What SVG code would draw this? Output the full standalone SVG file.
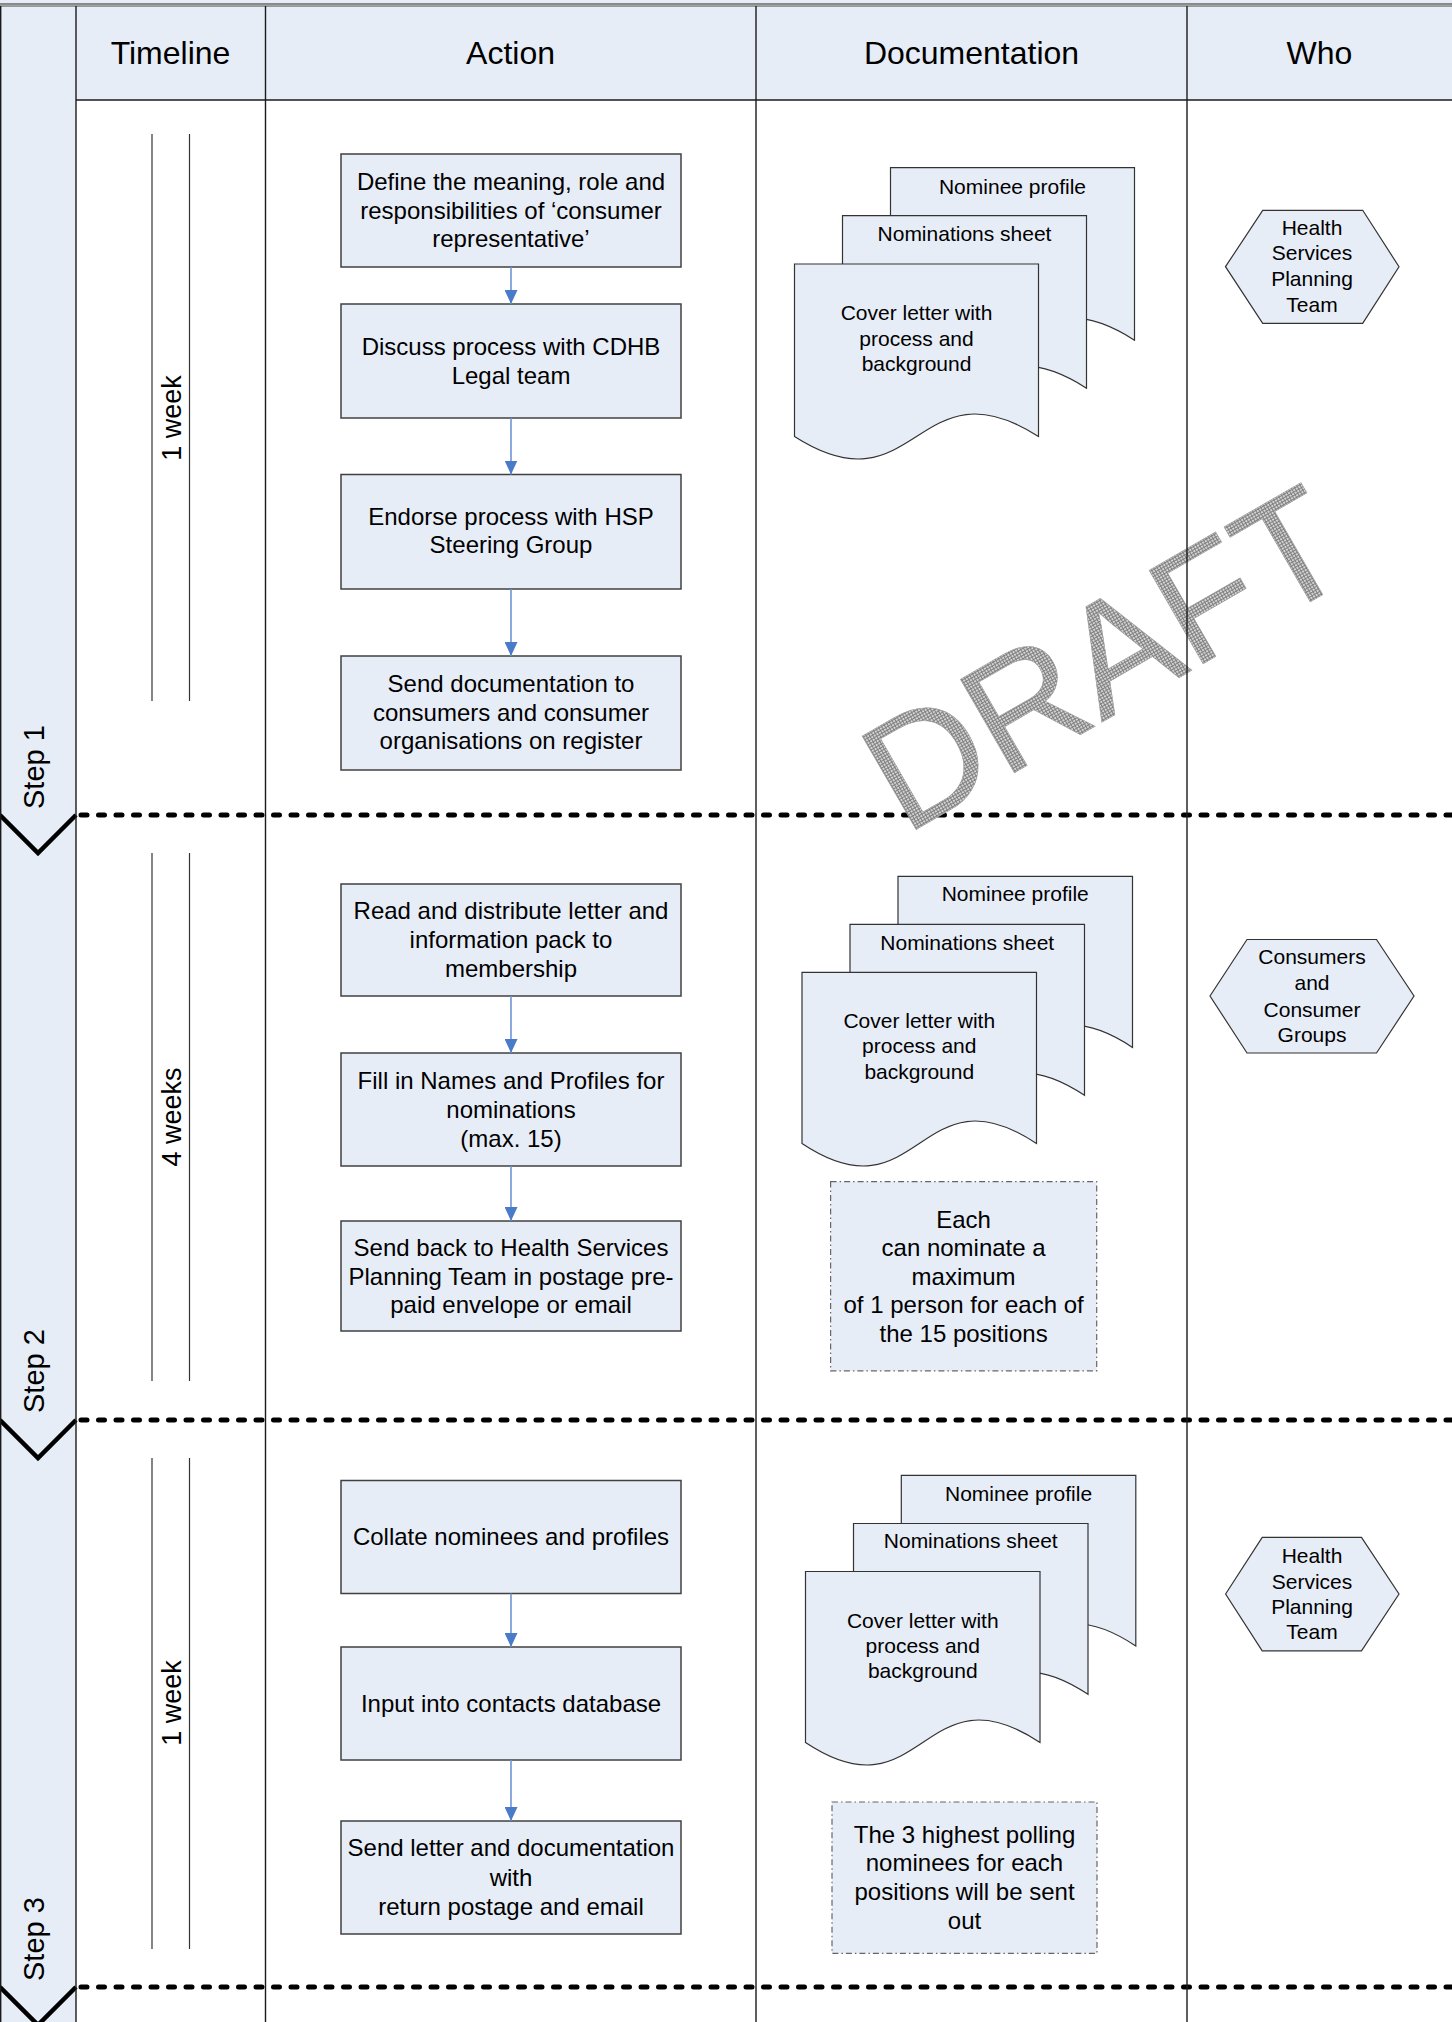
<svg xmlns="http://www.w3.org/2000/svg" width="1452" height="2022" viewBox="0 0 1452 2022">
<defs>
<style>
.bg{fill:#E7EDF7}
.grid{stroke:#1a1a1a;stroke-width:1.4;fill:none}
.hdr{font-family:"Liberation Sans",Arial,sans-serif;font-size:32px;fill:#000;text-anchor:middle}
.box{fill:#E7EDF7;stroke:#404040;stroke-width:1.5}
.bt{font-family:"Liberation Sans",Arial,sans-serif;font-size:24px;fill:#000;text-anchor:middle}
.doc{fill:#E7EDF7;stroke:#333;stroke-width:1.2}
.dt{font-family:"Liberation Sans",Arial,sans-serif;font-size:21px;fill:#000;text-anchor:middle}
.note{fill:#E7EDF7;stroke:#666;stroke-width:1.2;stroke-dasharray:6 3 1.5 3}
.hex{fill:#E7EDF7;stroke:#333;stroke-width:1.2}
.tl{stroke:#333;stroke-width:1.2}
.tt{font-family:"Liberation Sans",Arial,sans-serif;font-size:27px;fill:#000;text-anchor:middle}
.st{font-family:"Liberation Sans",Arial,sans-serif;font-size:29px;fill:#000;text-anchor:start}
.div{stroke:#000;stroke-width:5;stroke-dasharray:6 11.5;stroke-linecap:round;fill:none}
.chev{stroke:#000;stroke-width:4.5;fill:none;stroke-linejoin:miter}
.conn{stroke:#6F95D3;stroke-width:1.6;fill:none}
</style>
<marker id="ah" markerUnits="userSpaceOnUse" markerWidth="14" markerHeight="13" viewBox="0 0 14 13" refX="14" refY="6.5" orient="auto">
<path d="M0,0 L14,6.5 L0,13 z" fill="#4A7BC8"/>
</marker>
<pattern id="hatch" width="3" height="3" patternUnits="userSpaceOnUse">
<rect width="3" height="3" fill="#d4d4d4"/>
<rect width="3" height="1" fill="#808080"/>
<rect width="1" height="3" fill="#808080"/>
</pattern>
</defs>

<!-- backgrounds -->
<rect x="0" y="0" width="1452" height="2022" fill="#fff"/>
<rect class="bg" x="0" y="0" width="1452" height="4"/>
<rect class="bg" x="0" y="6" width="76" height="2016"/>
<rect class="bg" x="76" y="6" width="1376" height="94"/>
<line x1="0" y1="4" x2="1452" y2="4" stroke="#666" stroke-width="1.3"/>
<line x1="0" y1="6" x2="1452" y2="6" stroke="#444" stroke-width="1.2"/>

<!-- header -->
<g id="header">
<text class="hdr" x="170.5" y="64">Timeline</text>
<text class="hdr" x="510.5" y="64">Action</text>
<text class="hdr" x="971.5" y="64">Documentation</text>
<text class="hdr" x="1319.5" y="64">Who</text>
</g>

<!-- step dividers -->
<g id="dividers">
<line class="div" x1="81" y1="815" x2="1452" y2="815"/>
<line class="div" x1="81" y1="1420" x2="1452" y2="1420"/>
<line class="div" x1="81" y1="1987" x2="1452" y2="1987"/>
<polyline class="chev" points="0,815 38,853 76,815"/>
<polyline class="chev" points="0,1420 38,1458 76,1420"/>
<polyline class="chev" points="0,1987 38,2025 76,1987"/>
</g>

<!-- watermark -->
<text x="905" y="836" transform="rotate(-30 905 836)" font-family="'Liberation Sans',Arial,sans-serif" font-size="157" fill="url(#hatch)" stroke="#9a9a9a" stroke-width="0.6">DRAFT</text>

<!-- grid lines -->
<g id="grid" class="grid">
<line x1="0.7" y1="6" x2="0.7" y2="2022"/>
<line x1="76" y1="6" x2="76" y2="2022"/>
<line x1="265.5" y1="6" x2="265.5" y2="2022"/>
<line x1="756" y1="6" x2="756" y2="2022"/>
<line x1="1187" y1="6" x2="1187" y2="2022"/>
<line x1="76" y1="100" x2="1452" y2="100"/>
</g>

<!-- step labels -->
<g id="step1"><text class="st" transform="translate(44,809) rotate(-90)">Step 1</text></g>
<g id="step2"><text class="st" transform="translate(44,1413) rotate(-90)">Step 2</text></g>
<g id="step3"><text class="st" transform="translate(44,1981) rotate(-90)">Step 3</text></g>

<!-- timelines -->
<g id="timeline1">
<line class="tl" x1="152" y1="134" x2="152" y2="701"/>
<line class="tl" x1="189.5" y1="134" x2="189.5" y2="701"/>
<text class="tt" transform="translate(180.5,418) rotate(-90)">1 week</text>
</g>
<g id="timeline2">
<line class="tl" x1="152" y1="853" x2="152" y2="1381"/>
<line class="tl" x1="189.5" y1="853" x2="189.5" y2="1381"/>
<text class="tt" transform="translate(180.5,1117) rotate(-90)">4 weeks</text>
</g>
<g id="timeline3">
<line class="tl" x1="152" y1="1458" x2="152" y2="1949"/>
<line class="tl" x1="189.5" y1="1458" x2="189.5" y2="1949"/>
<text class="tt" transform="translate(180.5,1703) rotate(-90)">1 week</text>
</g>

<!-- action nodes -->
<g id="a1"><rect class="box" x="341" y="154" width="340" height="113"/>
<text class="bt" x="511" y="190">Define the meaning, role and</text>
<text class="bt" x="511" y="218.5">responsibilities of ‘consumer</text>
<text class="bt" x="511" y="246.5">representative’</text></g>
<g id="a2"><rect class="box" x="341" y="304" width="340" height="114"/>
<text class="bt" x="511" y="355">Discuss process with CDHB</text>
<text class="bt" x="511" y="383.5">Legal team</text></g>
<g id="a3"><rect class="box" x="341" y="474.5" width="340" height="114.5"/>
<text class="bt" x="511" y="524.5">Endorse process with HSP</text>
<text class="bt" x="511" y="553">Steering Group</text></g>
<g id="a4"><rect class="box" x="341" y="656" width="340" height="114"/>
<text class="bt" x="511" y="692">Send documentation to</text>
<text class="bt" x="511" y="720.5">consumers and consumer</text>
<text class="bt" x="511" y="749">organisations on register</text></g>

<g id="a5"><rect class="box" x="341" y="884" width="340" height="112"/>
<text class="bt" x="511" y="918.5">Read and distribute letter and</text>
<text class="bt" x="511" y="947.5">information pack to</text>
<text class="bt" x="511" y="976.5">membership</text></g>
<g id="a6"><rect class="box" x="341" y="1053" width="340" height="113"/>
<text class="bt" x="511" y="1088.5">Fill in Names and Profiles for</text>
<text class="bt" x="511" y="1118">nominations</text>
<text class="bt" x="511" y="1146.5">(max. 15)</text></g>
<g id="a7"><rect class="box" x="341" y="1221" width="340" height="110"/>
<text class="bt" x="511" y="1255.5">Send back to Health Services</text>
<text class="bt" x="511" y="1284.5">Planning Team in postage pre-</text>
<text class="bt" x="511" y="1312.5">paid envelope or email</text></g>

<g id="a8"><rect class="box" x="341" y="1480.5" width="340" height="113"/>
<text class="bt" x="511" y="1544.5">Collate nominees and profiles</text></g>
<g id="a9"><rect class="box" x="341" y="1647" width="340" height="113"/>
<text class="bt" x="511" y="1711.5">Input into contacts database</text></g>
<g id="a10"><rect class="box" x="341" y="1821" width="340" height="113"/>
<text class="bt" x="511" y="1856">Send letter and documentation</text>
<text class="bt" x="511" y="1885.5">with</text>
<text class="bt" x="511" y="1914.5">return postage and email</text></g>

<!-- connectors -->
<g id="connectors">
<line class="conn" x1="511" y1="267" x2="511" y2="304" marker-end="url(#ah)"/>
<line class="conn" x1="511" y1="418" x2="511" y2="474.5" marker-end="url(#ah)"/>
<line class="conn" x1="511" y1="589" x2="511" y2="656" marker-end="url(#ah)"/>
<line class="conn" x1="511" y1="996" x2="511" y2="1053" marker-end="url(#ah)"/>
<line class="conn" x1="511" y1="1166" x2="511" y2="1221" marker-end="url(#ah)"/>
<line class="conn" x1="511" y1="1593.5" x2="511" y2="1647" marker-end="url(#ah)"/>
<line class="conn" x1="511" y1="1760" x2="511" y2="1821" marker-end="url(#ah)"/>
</g>

<!-- documentation step 1 -->
<g id="d1a"><path class="doc" d="M890.5,167.7 H1134.5 V340.2 C1012.5,262.2 1012.5,418.2 890.5,340.2 Z"/>
<text class="dt" x="1012.5" y="193.5">Nominee profile</text></g>
<g id="d1b"><path class="doc" d="M842.5,215.7 H1086.5 V388.2 C964.5,310.2 964.5,466.2 842.5,388.2 Z"/>
<text class="dt" x="964.5" y="240.5">Nominations sheet</text></g>
<g id="d1c"><path class="doc" d="M794.5,264 H1038.5 V436.5 C916.5,358.5 916.5,514.5 794.5,436.5 Z"/>
<text class="dt" x="916.5" y="320">Cover letter with</text>
<text class="dt" x="916.5" y="345.5">process and</text>
<text class="dt" x="916.5" y="371">background</text></g>

<!-- documentation step 2 -->
<g id="d2a"><path class="doc" d="M898,876.4 H1132.5 V1047.4 C1015.25,969.4 1015.25,1125.4 898,1047.4 Z"/>
<text class="dt" x="1015.25" y="901">Nominee profile</text></g>
<g id="d2b"><path class="doc" d="M850,924.3 H1084.5 V1095.3 C967.25,1017.3 967.25,1173.3 850,1095.3 Z"/>
<text class="dt" x="967.25" y="949.5">Nominations sheet</text></g>
<g id="d2c"><path class="doc" d="M802,972.3 H1036.5 V1143.5 C919.25,1065.5 919.25,1221.5 802,1143.5 Z"/>
<text class="dt" x="919.25" y="1027.5">Cover letter with</text>
<text class="dt" x="919.25" y="1053">process and</text>
<text class="dt" x="919.25" y="1078.5">background</text></g>
<g id="n2"><rect class="note" x="830.6" y="1181.7" width="266.1" height="189.1"/>
<text class="bt" x="963.6" y="1227.5">Each</text>
<text class="bt" x="963.6" y="1256">can nominate a</text>
<text class="bt" x="963.6" y="1284.5">maximum</text>
<text class="bt" x="963.6" y="1313">of 1 person for each of</text>
<text class="bt" x="963.6" y="1341.5">the 15 positions</text></g>

<!-- documentation step 3 -->
<g id="d3a"><path class="doc" d="M901.3,1475.3 H1135.8 V1646 C1018.55,1568 1018.55,1724 901.3,1646 Z"/>
<text class="dt" x="1018.55" y="1500.5">Nominee profile</text></g>
<g id="d3b"><path class="doc" d="M853.5,1523.5 H1088 V1694.3 C970.75,1616.3 970.75,1772.3 853.5,1694.3 Z"/>
<text class="dt" x="970.75" y="1548">Nominations sheet</text></g>
<g id="d3c"><path class="doc" d="M805.5,1571.5 H1040 V1742.5 C922.75,1664.5 922.75,1820.5 805.5,1742.5 Z"/>
<text class="dt" x="922.75" y="1627.5">Cover letter with</text>
<text class="dt" x="922.75" y="1653">process and</text>
<text class="dt" x="922.75" y="1678">background</text></g>
<g id="n3"><rect class="note" x="832" y="1802" width="265" height="151.4"/>
<text class="bt" x="964.5" y="1843">The 3 highest polling</text>
<text class="bt" x="964.5" y="1871">nominees for each</text>
<text class="bt" x="964.5" y="1900">positions will be sent</text>
<text class="bt" x="964.5" y="1928.5">out</text></g>

<!-- who -->
<g id="w1"><polygon class="hex" points="1225.5,266.7 1262.7,210.3 1362.7,210.3 1399,266.7 1362.7,323.3 1262.7,323.3"/>
<text class="dt" x="1312" y="234.5">Health</text>
<text class="dt" x="1312" y="260">Services</text>
<text class="dt" x="1312" y="286">Planning</text>
<text class="dt" x="1312" y="311.5">Team</text></g>
<g id="w2"><polygon class="hex" points="1210,996 1247,939.5 1376.5,939.5 1414,996 1376.5,1053 1247,1053"/>
<text class="dt" x="1312" y="964">Consumers</text>
<text class="dt" x="1312" y="990">and</text>
<text class="dt" x="1312" y="1016.5">Consumer</text>
<text class="dt" x="1312" y="1041.5">Groups</text></g>
<g id="w3"><polygon class="hex" points="1225.6,1594 1262.2,1537.3 1361.5,1537.3 1399,1594 1361.5,1650.8 1262.2,1650.8"/>
<text class="dt" x="1312" y="1562.5">Health</text>
<text class="dt" x="1312" y="1588.5">Services</text>
<text class="dt" x="1312" y="1613.5">Planning</text>
<text class="dt" x="1312" y="1638.5">Team</text></g>
</svg>
